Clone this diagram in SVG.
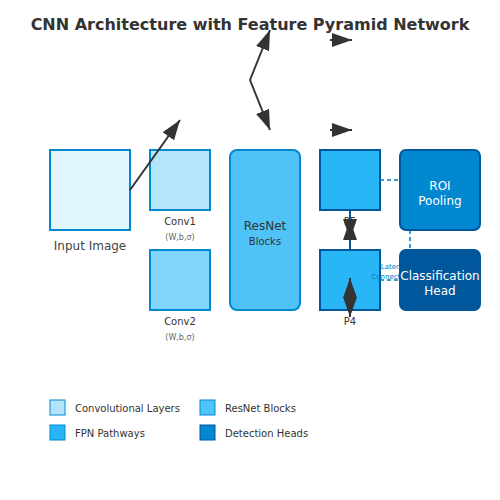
<svg xmlns="http://www.w3.org/2000/svg" width="500" height="500" viewBox="0 0 500 500">
<style>
text{font-family:"DejaVu Sans","Liberation Sans",sans-serif;text-anchor:middle}
.title{font-size:16px;font-weight:bold;fill:#333}
.lbl{font-size:10px;fill:#333}
.sub{font-size:8px;fill:#666}
.wt{font-size:12px;fill:#fff}
.leg{font-size:10px;fill:#333;text-anchor:start}
.lb{stroke:#0288d1;stroke-width:2}
.db{stroke:#01579b;stroke-width:2}
.arr{fill:none;stroke:#333;stroke-width:2;marker-end:url(#ah)}
.dash{fill:none;stroke:#0277bd;stroke-width:1.5;stroke-dasharray:4,3}
</style>
<defs>
<marker id="ah" viewBox="0 0 10 7" markerWidth="10" markerHeight="7" refX="10" refY="3.5" orient="auto"><path d="M0,0 L10,3.5 L0,7 Z" fill="#333"/></marker>
</defs>
<rect width="500" height="500" fill="#fff"/>
<text class="title" x="250" y="30">CNN Architecture with Feature Pyramid Network</text>
<g id="input"><rect x="50" y="150" width="80" height="80" fill="#e1f5fe" class="lb"/><text x="90" y="250" style="font-size:12px;fill:#444">Input Image</text></g>
<g id="conv1"><rect x="150" y="150" width="60" height="60" fill="#b3e5fc" class="lb"/><text class="lbl" x="180" y="225">Conv1</text><text class="sub" x="180" y="240">(W,b,σ)</text></g>
<g id="conv2"><rect x="150" y="250" width="60" height="60" fill="#81d4fa" class="lb"/><text class="lbl" x="180" y="325">Conv2</text><text class="sub" x="180" y="340">(W,b,σ)</text></g>
<g id="resnet"><rect x="230" y="150" width="70" height="160" rx="7" fill="#4fc3f7" class="lb"/><text x="265" y="230" style="font-size:12px;fill:#333">ResNet</text><text class="lbl" x="265" y="245">Blocks</text></g>
<g id="p5"><rect x="320" y="150" width="60" height="60" fill="#29b6f6" class="db"/><text class="lbl" x="350" y="225">P5</text></g>
<g id="p4"><rect x="320" y="250" width="60" height="60" fill="#29b6f6" class="db"/><text class="lbl" x="350" y="325">P4</text></g>
<g id="lateral-label"><text x="393" y="269" style="font-size:7px;fill:#0277bd">Lateral</text><text x="393" y="279" style="font-size:7px;fill:#0277bd">Connections</text></g>
<g id="connectors">
<line x1="350" y1="210" x2="350" y2="250" stroke="#01579b" stroke-width="2"/>
<path class="dash" d="M380,180 L400,180"/>
<path class="dash" d="M410,230 L410,250"/>
<path class="dash" d="M380,280 L400,280"/>
<path class="arr" d="M130,190 L180,120"/>
<path class="arr" d="M250,80 L270,30"/>
<path class="arr" d="M250,80 L270,130"/>
<path class="arr" d="M330,40 L352,40"/>
<path class="arr" d="M330,130 L352,130"/>
<path class="arr" d="M350,239 L350,220"/>
<path class="arr" d="M350,220 L350,239"/>
<path class="arr" d="M350,298 L350,278"/>
<path class="arr" d="M350,297 L350,317"/>
</g>
<g id="roi"><rect x="400" y="150" width="80" height="80" rx="6" fill="#0288d1" class="db"/><text class="wt" x="440" y="190">ROI</text><text class="wt" x="440" y="205">Pooling</text></g>
<g id="cls"><rect x="400" y="250" width="80" height="60" rx="6" fill="#01579b" class="db"/><text class="wt" x="440" y="280">Classification</text><text class="wt" x="440" y="295">Head</text></g>
<g id="legend">
<rect x="50" y="400" width="15" height="15" fill="#b3e5fc" stroke="#0288d1"/><text class="leg" x="75" y="412">Convolutional Layers</text>
<rect x="200" y="400" width="15" height="15" fill="#4fc3f7" stroke="#0288d1"/><text class="leg" x="225" y="412">ResNet Blocks</text>
<rect x="50" y="425" width="15" height="15" fill="#29b6f6" stroke="#0288d1"/><text class="leg" x="75" y="437">FPN Pathways</text>
<rect x="200" y="425" width="15" height="15" fill="#0288d1" stroke="#01579b"/><text class="leg" x="225" y="437">Detection Heads</text>
</g>
</svg>
